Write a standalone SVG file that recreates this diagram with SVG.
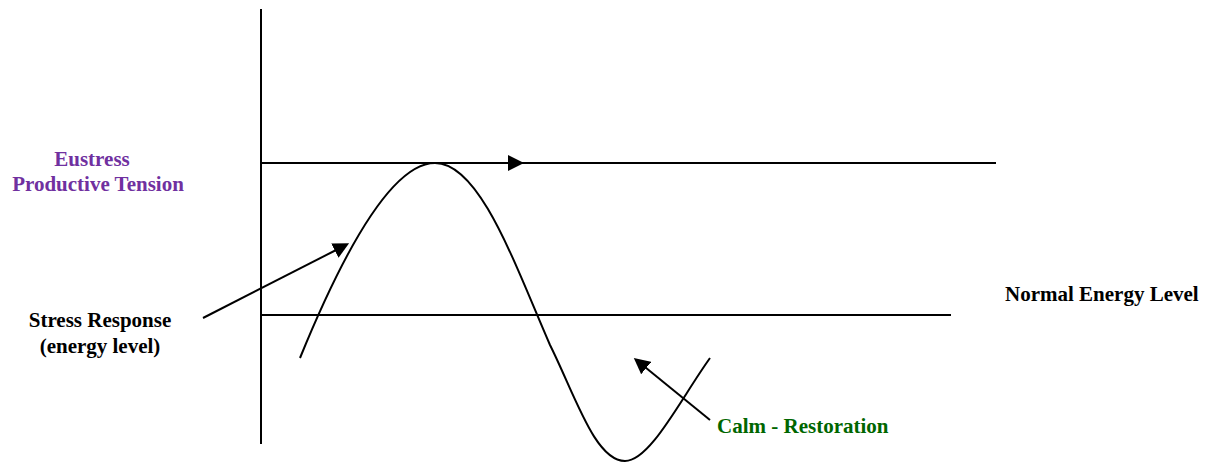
<svg xmlns="http://www.w3.org/2000/svg" width="1206" height="462" viewBox="0 0 1206 462">
<style>
.ln{stroke:#000;stroke-width:2;fill:none}
.t{font-family:"Liberation Serif","Times New Roman",serif;font-weight:bold;font-size:21px}
</style>
<defs>
<marker id="ah2" markerWidth="16" markerHeight="16" refX="8" refY="8" orient="auto" markerUnits="userSpaceOnUse" viewBox="0 0 16 16">
<path d="M0,0L16,8L0,16z" fill="#000"/>
</marker>
</defs>
<rect width="1206" height="462" fill="#fff"/>
<g id="connectors">
<line class="ln" x1="261" y1="9" x2="261" y2="444"/>
<line class="ln" x1="261" y1="163" x2="996" y2="163"/>
<path d="M508,155L524,163L508,171z" fill="#000"/>
<line class="ln" x1="261" y1="315" x2="951" y2="315"/>
<path class="ln" d="M300,358 C340,260 390,163 435,163 C480,163 515,265 550,345 C575,395 595,461 625,461 C650,461 680,400 710,358"/>
<line class="ln" x1="203" y1="318" x2="342" y2="247" marker-end="url(#ah2)"/>
<line class="ln" x1="710" y1="420" x2="640" y2="363" marker-end="url(#ah2)"/>
</g>
<g id="eustress">
<text class="t" fill="#7030A0" text-anchor="middle" x="92" y="166">Eustress</text>
<text class="t" fill="#7030A0" text-anchor="middle" x="98" y="191">Productive Tension</text>
</g>
<g id="stress-response">
<text class="t" fill="#000" text-anchor="middle" x="100" y="327">Stress Response</text>
<text class="t" fill="#000" text-anchor="middle" x="100" y="353">(energy level)</text>
</g>
<g id="normal">
<text class="t" fill="#000" x="1005" y="301">Normal Energy Level</text>
</g>
<g id="calm">
<text class="t" fill="#006600" x="717" y="433">Calm - Restoration</text>
</g>
</svg>
